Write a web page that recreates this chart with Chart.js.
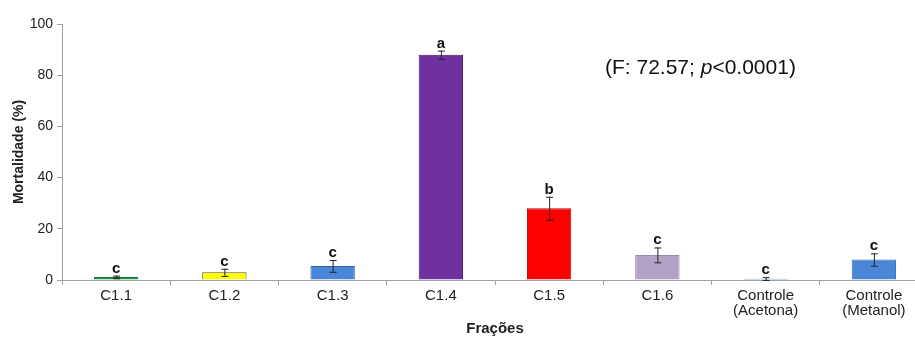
<!DOCTYPE html>
<html>
<head>
<meta charset="utf-8">
<script src="https://cdn.jsdelivr.net/npm/chart.js@4/dist/chart.umd.min.js"></script>
<style>
  html, body { margin: 0; padding: 0; background: #fff; overflow: hidden; }
  #wrap { width: 930px; height: 338px; }
</style>
</head>
<body>
<div id="wrap"><canvas id="grafico" width="930" height="338"></canvas></div>
<script>
var categorias = ['C1.1', 'C1.2', 'C1.3', 'C1.4', 'C1.5', 'C1.6', ['Controle', '(Acetona)'], ['Controle', '(Metanol)']];
var mortalidade = [1.2, 3, 5.5, 88, 28, 9.8, 0.5, 8];
var erro = [0.5, 1.4, 2.3, 1.6, 4.5, 2.9, 0.6, 2.4];
var letras = ['c', 'c', 'c', 'a', 'b', 'c', 'c', 'c'];
var cores = ['#1f9e4f', '#ffff00', '#4a86d8', '#7030a0', '#ff0000', '#b3a2c8', '#3d6fb0', '#4a86d8'];
var bordas = ['#146b33', '#5a5a20', '#2f5f9e', '#3c1a5a', '#b00000', '#9a8ab0', '#24508a', '#3a6eb0'];
var yTicks = [0, 20, 40, 60, 80, 100];

// barras de erro, letras e a estatistica
var extras = {
  id: 'extras',
  afterDatasetsDraw: function(chart) {
    var ctx = chart.ctx;
    var x = chart.scales.x, y = chart.scales.y;
    ctx.save();
    for (var i = 0; i < mortalidade.length; i++) {
      var px = x.getPixelForValue(i);
      var top = y.getPixelForValue(mortalidade[i] + erro[i]);
      var bot = y.getPixelForValue(Math.max(0, mortalidade[i] - erro[i]));
      ctx.strokeStyle = '#222';
      ctx.lineWidth = 1;
      ctx.beginPath();
      ctx.moveTo(px + 0.5, top); ctx.lineTo(px + 0.5, bot);
      ctx.moveTo(px - 3, top + 0.5); ctx.lineTo(px + 4, top + 0.5);
      ctx.moveTo(px - 3, bot + 0.5); ctx.lineTo(px + 4, bot + 0.5);
      ctx.stroke();
      ctx.fillStyle = '#111';
      ctx.font = 'bold 15px "Liberation Sans", Arial, sans-serif';
      ctx.textAlign = 'center';
      ctx.textBaseline = 'alphabetic';
      ctx.fillText(letras[i], px, top - 3);
    }
    ctx.textAlign = 'left';
    ctx.textBaseline = 'middle';
    ctx.fillStyle = '#111';
    var sx = 605, sy = 68;
    var partes = [['(F: 72.57; ', ''], ['p', 'italic '], ['<0.0001)', '']];
    for (var k = 0; k < partes.length; k++) {
      ctx.font = partes[k][1] + '21px "Liberation Sans", Arial, sans-serif';
      ctx.fillText(partes[k][0], sx, sy);
      sx += ctx.measureText(partes[k][0]).width;
    }
    ctx.restore();
  }
};

var config = {
  type: 'bar',
  data: {
    labels: categorias,
    datasets: [
      {
        data: mortalidade,
        backgroundColor: cores,
        borderColor: bordas,
        borderWidth: 1,
        barPercentage: 0.41,
        categoryPercentage: 1
      }
    ]
  },
  options: {
    responsive: false,
    animation: false,
    layout: { padding: { top: 24, right: 2, left: 0, bottom: 0 } },
    plugins: { legend: { display: false }, tooltip: { enabled: false } },
    scales: {
      x: {
        grid: { drawOnChartArea: false, color: '#a0a0a0', tickLength: 5, offset: true },
        border: { color: '#a0a0a0' },
        ticks: { color: '#222', font: { size: 15, family: '"Liberation Sans", Arial, sans-serif', lineHeight: 1.0 }, padding: 3, maxRotation: 0, autoSkip: false },
        title: { display: true, text: 'Frações', color: '#222', font: { size: 15, weight: 'bold', family: '"Liberation Sans", Arial, sans-serif' }, padding: { top: 0, bottom: 0 } },
        afterFit: function(s) { s.height = 58; }
      },
      y: {
        min: 0, max: 100,
        afterBuildTicks: function(s) { s.ticks = yTicks.map(function(v) { return { value: v }; }); },
        grid: { drawOnChartArea: false, color: '#a0a0a0', tickLength: 5 },
        border: { color: '#a0a0a0' },
        ticks: { color: '#222', font: { size: 14, family: '"Liberation Sans", Arial, sans-serif' }, padding: 4 },
        title: { display: true, text: 'Mortalidade (%)', color: '#222', font: { size: 14, weight: 'bold', family: '"Liberation Sans", Arial, sans-serif' }, padding: { top: 11, bottom: 0 } },
        afterFit: function(s) { s.width = 62; }
      }
    }
  },
  plugins: [extras]
};

var ctx = document.getElementById('grafico').getContext('2d');
window.grafico = new Chart(ctx, config);
</script>
</body>
</html>
